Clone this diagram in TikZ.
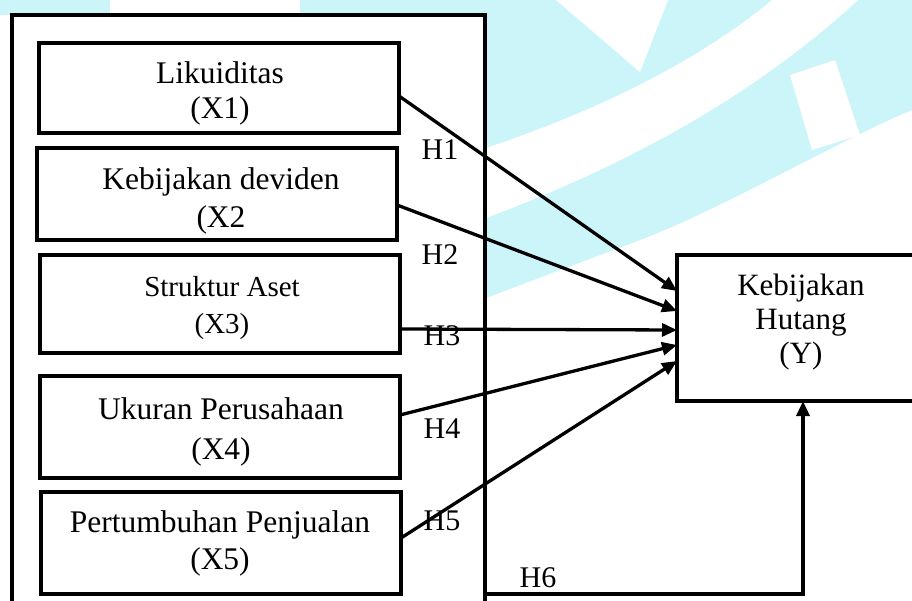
\documentclass[tikz,border=0pt]{standalone}
\usepackage{fontspec}
\setmainfont{Liberation Serif}
\usetikzlibrary{arrows.meta}
\definecolor{wmcyan}{RGB}{204,245,250}
\begin{document}
\begin{tikzpicture}[x=1pt,y=-1pt,
  box/.style={draw, line width=3.5pt, fill=white, inner sep=0pt, outer sep=0pt},
  txt/.style={align=center, inner sep=0pt, font=\fontsize{31.5}{37}\selectfont},
  hlab/.style={anchor=base, inner sep=0pt, font=\fontsize{30}{36}\selectfont},
  conn/.style={line width=3.3pt, -{Triangle[length=15pt,width=13pt]}}
]
\clip (0,0) rectangle (912,601);
\useasboundingbox (0,0) rectangle (912,601);
% watermark background
\fill[wmcyan] (486,0) -- (912,0) -- (912,110) .. controls (840,140) and (720,210) .. (640,240) -- (486,298) -- cycle;
\fill[white] (486,148) .. controls (600,110) and (700,60) .. (772,0) -- (858,0) .. controls (760,90) and (640,160) .. (486,218) -- cycle;
\fill[white] (556,0) -- (640,72) -- (668,0) -- cycle;
\fill[white] (790,75) -- (835,60) -- (860,135) -- (812,150) -- cycle;
\fill[wmcyan] (300,0) rectangle (486,15);
\fill[wmcyan] (0,0) rectangle (110,15);
% frame and boxes
\node[box, minimum width=473pt, minimum height=700pt, anchor=north west] (outer) at (12,15) {};
\node[box, minimum width=360pt, minimum height=90pt] (x1) at (219,88) {};
\node[box, minimum width=360pt, minimum height=92pt] (x2) at (217,194) {};
\node[box, minimum width=360pt, minimum height=98pt] (x3) at (220,304) {};
\node[box, minimum width=360pt, minimum height=102pt] (x4) at (220,427) {};
\node[box, minimum width=360pt, minimum height=102pt] (x5) at (221,543) {};
\node[box, minimum width=263pt, minimum height=146pt, anchor=north west] (ybox) at (677,255) {};
% texts
\node[txt, font=\fontsize{31.5}{35}\selectfont] (t1) at (220,93.2) {Likuiditas\\(X1)};
\node[txt, font=\fontsize{31.5}{38}\selectfont] (t2) at (221,200.7) {Kebijakan deviden\\(X2};
\node[txt, font=\fontsize{29}{37}\selectfont] (t3) at (222,307.8) {Struktur Aset\\(X3)};
\node[txt, font=\fontsize{31.5}{40}\selectfont] (t4) at (221,431.7) {Ukuran Perusahaan\\(X4)};
\node[txt, font=\fontsize{31.5}{37}\selectfont] (t5) at (220,543.2) {Pertumbuhan Penjualan\\(X5)};
\node[txt, font=\fontsize{31}{34}\selectfont] (ty) at (801,321.8) {Kebijakan\\Hutang\\(Y)};
% connectors
\draw[conn] (x1.east |- 0,96) -- (ybox.west |- 0,291);
\draw[conn] (x2.east |- 0,205) -- (ybox.west |- 0,311);
\draw[conn] (x3.east |- 0,329) -- (ybox.west |- 0,330);
\draw[conn] (x4.east |- 0,415) -- (ybox.west |- 0,345);
\draw[conn] (x5.east |- 0,538) -- (ybox.west |- 0,361);
\draw[conn] (outer.east |- 0,594) -| (ybox.south -| 803,0);
% labels
\node[hlab] (h1) at (440,160) {H1};
\node[hlab] (h2) at (440,265) {H2};
\node[hlab] (h3) at (442,345) {H3};
\node[hlab] (h4) at (442,438) {H4};
\node[hlab] (h5) at (442,530) {H5};
\node[hlab] (h6) at (538,587) {H6};
\end{tikzpicture}
\end{document}
